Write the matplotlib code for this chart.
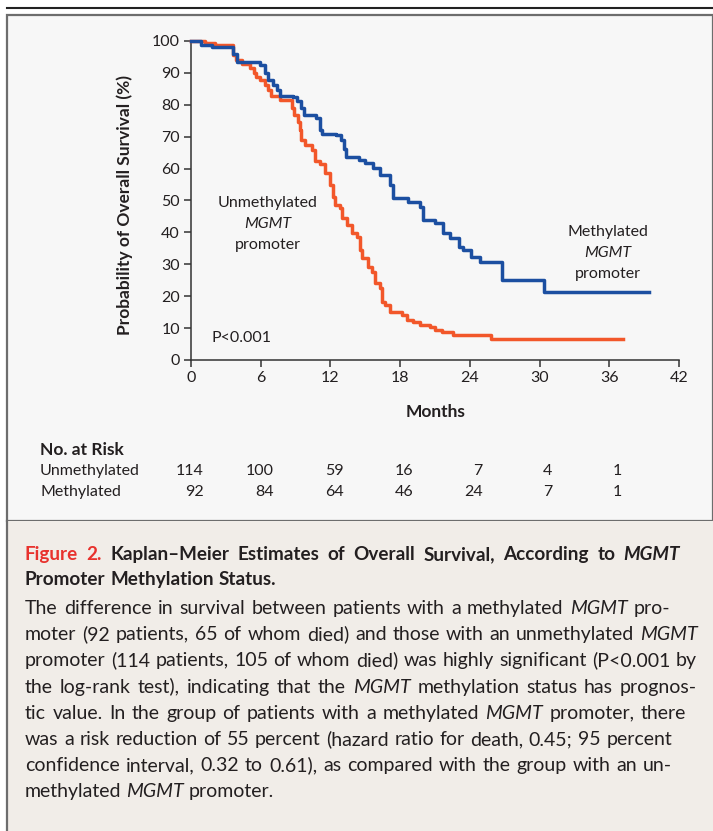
import matplotlib.pyplot as plt
from matplotlib.patches import Rectangle
from matplotlib.lines import Line2D
import matplotlib.transforms as mtransforms

plt.rcParams['font.family'] = ['Lato', 'DejaVu Sans']

# Kaplan-Meier steps (months, % surviving)
meth_t = [0, 0.9, 1.8, 3.6, 3.95, 5.9, 6.4, 6.6, 7.1, 7.4, 7.7, 8.8, 9.1, 9.45,
          9.7, 10.8, 11.1, 11.25, 12.5, 12.9, 13.2, 13.35, 14.5, 15.0, 15.7,
          16.3, 17.1, 17.4, 18.7, 19.7, 20.0, 21.0, 21.7, 22.3, 23.1, 23.4,
          24.1, 24.9, 26.8, 30.4, 39.4]
meth_s = [100, 98.7, 98, 96, 93.3, 92.5, 90, 87.8, 86.2, 84.6, 82.9, 82.5, 81.2,
          78.9, 76.8, 75.8, 72.1, 71.0, 70.5, 69.0, 66.3, 63.7, 62.7, 61.6, 60.1,
          58, 54.9, 50.7, 49.6, 48.1, 43.9, 42.9, 39.7, 38.1, 35.5, 34.5, 32.3,
          30.7, 25.0, 21.3, 21.3]

unm_t = [0, 1.2, 2.1, 3.6, 3.9, 4.4, 5.1, 5.4, 5.6, 5.9, 6.4, 6.6, 6.9, 7.7,
         8.7, 8.9, 9.2, 9.4, 9.5, 9.8, 10.4, 10.7, 11.1, 11.5, 11.95, 12.24,
         12.38, 12.81, 12.96, 13.39, 13.82, 14.25, 14.53, 14.68, 15.25, 15.54,
         15.82, 16.25, 16.4, 16.68, 17.11, 18.12, 18.55, 19.1, 19.7, 20.55,
         20.98, 21.56, 22.55, 25.86, 37.2]
unm_s = [100, 99.3, 98.7, 95.5, 94, 92.8, 91.5, 90, 88.7, 87.8, 86.2, 84.6, 82.9,
         81.4, 79, 76.8, 74.7, 72.1, 69, 67.5, 65.9, 62.5, 61.3, 58.5, 54.9,
         51.2, 48.6, 47.6, 44.5, 42.3, 39.7, 38.7, 34.5, 31.9, 29.3, 27.7, 24,
         22.5, 18.3, 17.2, 15.2, 14.1, 12.5, 12, 11, 10.4, 9.4, 8.9, 7.8, 6.5,
         6.5]

risk_months = [0, 6, 12, 18, 24, 30, 36]
risk_unm = [114, 100, 59, 16, 7, 4, 1]
risk_meth = [92, 84, 64, 46, 24, 7, 1]

heading = [
    "{Figure} {2.} Kaplan\u2013Meier Estimates of Overall Survival, According to *MGMT*",
    "Promoter Methylation Status.",
]
body = [
    "The difference in survival between patients with a methylated *MGMT* pro-",
    "moter (92 patients, 65 of whom died) and those with an unmethylated *MGMT*",
    "promoter (114 patients, 105 of whom died) was highly significant (P<0.001 by",
    "the log-rank test), indicating that the *MGMT* methylation status has prognos-",
    "tic value. In the group of patients with a methylated *MGMT* promoter, there",
    "was a risk reduction of 55 percent (hazard ratio for death, 0.45; 95 percent",
    "confidence interval, 0.32 to 0.61), as compared with the group with an un-",
    "methylated *MGMT* promoter.",
]
# right edge of each body line in the reference (pixels), None = ragged
body_right = [670, 698, 697, 697, 686, 672, 672, None]

W, H = 713, 831
BLUE = '#1c4fa1'
RED = '#f2572a'
INK = '#231f20'

fig = plt.figure(figsize=(W / 100, H / 100), dpi=100)
fig.patch.set_facecolor('white')
renderer = fig.canvas.get_renderer()


def px(x, y):
    return x / W, 1 - y / H


# panel backgrounds and rules
fig.patches.append(Rectangle(px(7, 521), (W - 7) / W, 506 / H, transform=fig.transFigure,
                             facecolor='#f7f7f7', edgecolor='#6d6d6d', lw=1.6, zorder=-10))
fig.patches.append(Rectangle(px(7, 831), (W - 7) / W, 310 / H, transform=fig.transFigure,
                             facecolor='#f1ede8', edgecolor='none', zorder=-10))
fig.lines.append(Line2D([7 / W, 7 / W], [0, 1 - 521 / H], transform=fig.transFigure,
                        color='#6d6d6d', lw=1.6, zorder=-9))
fig.lines.append(Line2D([7 / W, 1], [1 - 8 / H] * 2, transform=fig.transFigure,
                        color='#222222', lw=1.5, zorder=-9))

ax = fig.add_axes([191 / W, 1 - 360 / H, 488 / W, 319 / H])
ax.set_facecolor('none')
ax.step(unm_t, unm_s, where='post', color=RED, lw=2.5, clip_on=False, zorder=3)
ax.step(meth_t, meth_s, where='post', color=BLUE, lw=2.5, clip_on=False, zorder=4)
ax.set_xlim(0, 42)
ax.set_ylim(0, 100)
ax.set_xticks(range(0, 43, 6))
ax.set_yticks(range(0, 101, 10))
for s in ['top', 'right']:
    ax.spines[s].set_visible(False)
for s in ['left', 'bottom']:
    ax.spines[s].set_color('#333333')
    ax.spines[s].set_linewidth(1.1)
ax.tick_params(direction='out', length=5, width=1.1, color='#333333',
               labelsize=11.5, labelcolor=INK, pad=3)

ax.text(6.6, 49.2, 'Unmethylated', ha='center', va='center', fontsize=11.5, color=INK)
ax.text(6.6, 42.6, 'MGMT', ha='center', va='center', fontsize=11.5, color=INK, style='italic')
ax.text(6.6, 36.1, 'promoter', ha='center', va='center', fontsize=11.5, color=INK)
ax.text(35.9, 40.1, 'Methylated', ha='center', va='center', fontsize=11.5, color=INK)
ax.text(35.9, 33.5, 'MGMT', ha='center', va='center', fontsize=11.5, color=INK, style='italic')
ax.text(35.9, 27.0, 'promoter', ha='center', va='center', fontsize=11.5, color=INK)
ax.text(1.8, 6.9, 'P<0.001', ha='left', va='center', fontsize=11.5, color=INK)

fig.text(*px(125, 205), 'Probability of Overall Survival (%)', rotation=90,
         ha='center', va='center', fontsize=12.5, fontweight='bold', color=INK)
fig.text(*px(436, 412), 'Months', ha='center', va='center', fontsize=12.5,
         fontweight='bold', color=INK)

# number at risk table
fig.text(*px(40, 450), 'No. at Risk', ha='left', va='center', fontsize=12.5,
         fontweight='bold', color=INK)
fig.text(*px(40, 471), 'Unmethylated', ha='left', va='center', fontsize=11.5, color=INK)
fig.text(*px(40, 492), 'Methylated', ha='left', va='center', fontsize=11.5, color=INK)
shift = mtransforms.ScaledTranslation(13 / 100, 0, fig.dpi_scale_trans)
row_tr = mtransforms.blended_transform_factory(ax.transData, fig.transFigure) + shift
for m, a, b in zip(risk_months, risk_unm, risk_meth):
    fig.text(m, 1 - 471 / H, str(a), transform=row_tr, ha='right', va='center',
             fontsize=11.5, color=INK)
    fig.text(m, 1 - 492 / H, str(b), transform=row_tr, ha='right', va='center',
             fontsize=11.5, color=INK)


def measure(s, size, weight, style='normal'):
    t = fig.text(0, 0, '', fontsize=size, fontweight=weight, style=style)
    w, _, _ = renderer.get_text_width_height_descent(s, t.get_fontproperties(), ismath=False)
    t.remove()
    return w


def draw_line(line, x0, y0, size, weight='normal', right=None):
    # words wrapped in *...* are italic, in {...} red
    words = []
    for word in line.split(' '):
        kw = dict(fontsize=size, fontweight=weight, color=INK, style='normal')
        if word.startswith('*') and word.endswith('*'):
            word = word[1:-1]
            kw['style'] = 'italic'
        if word.startswith('{') and word.endswith('}'):
            word = word[1:-1]
            kw['color'] = '#e8322d'
        words.append((word, kw, measure(word, size, weight, kw['style'])))
    gap = measure('a a', size, weight) - measure('aa', size, weight)
    if right is not None and len(words) > 1:
        gap = (right - x0 - sum(w for _, _, w in words)) / (len(words) - 1)
    x = x0
    for word, kw, w in words:
        fig.text(*px(x, y0), word, ha='left', va='baseline', **kw)
        x += w + gap


draw_line(heading[0], 25, 560, 13.6, 'bold', right=680)
draw_line(heading[1], 25, 585, 13.6, 'bold')
for i, line in enumerate(body):
    draw_line(line, 25, 614 + 26.2 * i, 14, right=body_right[i])

fig.savefig('out.png', dpi=100)
